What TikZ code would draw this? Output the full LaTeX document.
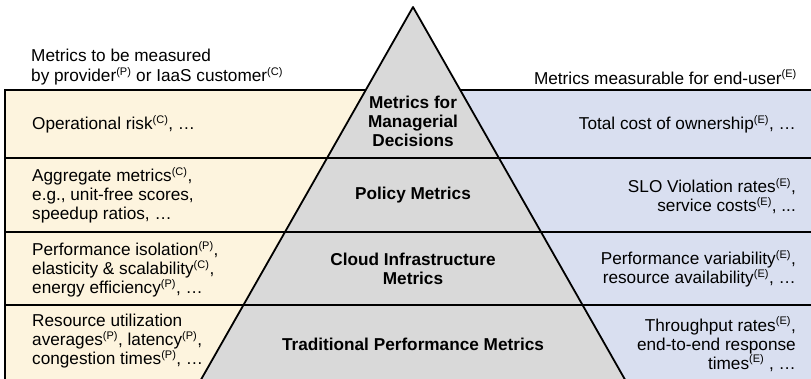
\documentclass[tikz,border=0pt]{standalone}
\usepackage{fontspec}
\setmainfont{Liberation Sans}
\definecolor{yellowbg}{HTML}{FDF4DE}
\definecolor{bluebg}{HTML}{D9DFF0}
\definecolor{pyrgray}{HTML}{D9D9D9}
\newcommand{\sy}[1]{\textsuperscript{\fontsize{11}{11}\selectfont(#1)}}
\begin{document}
\begin{tikzpicture}[x=1pt,y=-1pt,
  txt/.style={font=\fontsize{17.2}{19}\selectfont, inner sep=0pt},
  ltxt/.style={txt, anchor=west, align=left},
  rtxt/.style={txt, anchor=east, align=right},
  mtxt/.style={inner sep=0pt, align=center, font=\fontsize{17.2}{19}\selectfont\bfseries},
  sep/.style={line width=2pt}]
\useasboundingbox (0,0) rectangle (811,378);
\clip (0,0) rectangle (811,378);
% side panels
\fill[yellowbg] (5,90) rectangle (413,400);
\fill[bluebg] (413,90) rectangle (820,400);
\draw[sep] (5,400) -- (5,90) -- (820,90);
% pyramid
\coordinate (apex) at (413,7);
\coordinate (bl) at (189.4,400);
\coordinate (br) at (636.6,400);
\fill[pyrgray] (apex) -- (bl) -- (br) -- cycle;
\draw[line width=1.8pt, line join=round] (bl) -- (apex) -- (br);
% separators
\draw[sep] (5,158) -- (820,158);
\draw[sep] (5,232) -- (820,232);
\draw[sep] (5,305) -- (820,305);
% headers
\node[ltxt] (hl) at (31,67) {Metrics to be measured\\[1pt]by provider\sy{P} or IaaS customer\sy{C}};
\node[rtxt] (hr) at (797,77) {Metrics measurable for end-user\sy{E}};
% row 1
\node[ltxt] (l1) at (32,124) {Operational risk\sy{C}, \dots};
\node[mtxt] (m1) at (413,121) {Metrics for\\Managerial\\Decisions};
\node[rtxt] (r1) at (796,124) {Total cost of ownership\sy{E}, \dots};
% row 2
\node[ltxt] (l2) at (32,195) {Aggregate metrics\sy{C},\\e.g., unit-free scores,\\speedup ratios, \dots};
\node[mtxt] (m2) at (413,195) {Policy Metrics};
\node[rtxt] (r2) at (796,196) {SLO Violation rates\sy{E},\\service costs\sy{E}, ...};
% row 3
\node[ltxt] (l3) at (32,269) {Performance isolation\sy{P},\\elasticity \& scalability\sy{C},\\energy efficiency\sy{P}, \dots};
\node[mtxt] (m3) at (413,269) {Cloud Infrastructure\\Metrics};
\node[rtxt] (r3) at (796,269) {Performance variability\sy{E},\\resource availability\sy{E}, \dots};
% row 4
\node[ltxt] (l4) at (32,341) {Resource utilization\\averages\sy{P}, latency\sy{P},\\congestion times\sy{P}, \dots};
\node[mtxt] (m4) at (413,344) {Traditional Performance Metrics};
\node[rtxt] (r4) at (796,344) {Throughput rates\sy{E},\\end-to-end response\\times\sy{E} , \dots};
\end{tikzpicture}
\end{document}
